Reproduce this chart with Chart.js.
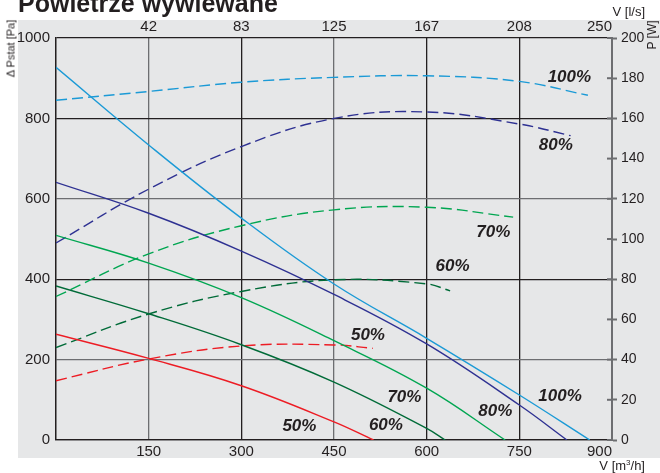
<!DOCTYPE html>
<html>
<head>
<meta charset="utf-8">
<script src="https://cdn.jsdelivr.net/npm/chart.js@4/dist/chart.umd.min.js"></script>
<style>
  body { margin: 0; background: #fff; }
  #wrap { position: relative; width: 660px; height: 473px; overflow: hidden; font-family: "Liberation Sans", Arial, sans-serif; color: #231f20; }
  canvas { position: absolute; left: 0; top: 0; }
  .lbl { position: absolute; white-space: nowrap; }
  #title { left: 18px; top: -9px; font-size: 25px; line-height: 25px; font-weight: bold; }
  #ls { right: 15px; top: 5px; font-size: 13px; line-height: 13px; }
  #m3h { right: 15px; top: 459px; font-size: 13px; line-height: 13px; }
  #m3h sup { font-size: 8px; vertical-align: 5px; line-height: 0; }
  #pw { left: 632px; top: 29px; width: 40px; height: 12px; font-size: 12px; line-height: 12px; text-align: center; transform: rotate(-90deg); }
  #pa { left: -24px; top: 43px; width: 70px; height: 11px; font-size: 11px; line-height: 11px; text-align: center; transform: rotate(-90deg); }
</style>
</head>
<body>
<div id="wrap">
  <canvas id="chart" width="660" height="473"></canvas>
  <div class="lbl" id="title">Powietrze wywiewane</div>
  <div class="lbl" id="ls">V [l/s]</div>
  <div class="lbl" id="m3h">V [m<sup>3</sup>/h]</div>
  <div class="lbl" id="pw">P [W]</div>
  <div class="lbl" id="pa">Δ Pstat [Pa]</div>
</div>
<script>
// flow axis ticks (m3/h) and matching l/s labels on top
const flowTicks = [0, 150, 300, 450, 600, 750, 900];
const lsTicks = ['', '42', '83', '125', '167', '208', '250'];

// static pressure curves [m3/h, Pa]
const pressure100 = [[0,927],[150,734],[300,552],[450,388],[600,253],[750,112],[864,0]];
const pressure80  = [[0,641],[150,564],[300,470],[450,362],[600,239],[750,87],[827,0]];
const pressure70  = [[0,509],[150,440],[300,354],[450,247],[600,129],[727,0]];
const pressure60  = [[0,383],[150,314],[300,237],[450,144],[600,29],[630,0]];
const pressure50  = [[0,263],[150,203],[300,135],[450,45],[514,0]];

// power curves [m3/h, W]
const power100 = [[0,169],[150,173.4],[300,178],[450,180.4],[600,181.2],[750,178.4],[861,171.5]];
const power80  = [[0,98],[150,124.8],[300,146],[450,160],[600,163.2],[750,157.2],[833,151.4]];
const power70  = [[0,71.4],[150,92.6],[300,106.6],[450,114.5],[600,115.8],[740,110.9]];
const power60  = [[0,46],[150,62.7],[300,73.9],[450,79.7],[600,77.7],[638,74.2]];
const power50  = [[0,29.5],[150,40.3],[300,46.8],[450,47.3],[513,45.6]];

// curve labels, placed in data units (m3/h, Pa)
const curveLabels = [
  ['100%', 831, 903], ['80%', 809, 734], ['70%', 708, 516], ['60%', 642, 433], ['50%', 505, 261],
  ['100%', 816, 108], ['80%', 711, 72], ['70%', 564, 105], ['60%', 534, 36], ['50%', 394, 35]
];

const DARK = '#231f20';
const GRAY = '#6d6e71';
const colors = { c100: '#1b9ad6', c80: '#2e3192', c70: '#00a651', c60: '#006b38', c50: '#ed1c24' };

const toXY = arr => arr.map(p => ({ x: p[0], y: p[1] }));

function curve(data, color, axis, dashed) {
  return {
    data: toXY(data),
    borderColor: color,
    borderWidth: 1.4,
    borderDash: dashed ? [11, 5] : [],
    yAxisID: axis,
    pointRadius: 0,
    tension: 0.4,
    fill: false
  };
}

const bgPlugin = {
  id: 'bg',
  beforeDraw(chart) {
    const ctx = chart.ctx;
    ctx.save();
    ctx.fillStyle = '#e6e7e8';
    ctx.fillRect(18, 20, 642, 438);
    ctx.restore();
  }
};

const extrasPlugin = {
  id: 'extras',
  afterDraw(chart) {
    const ctx = chart.ctx;
    const xs = chart.scales.x, ys = chart.scales.y, yw = chart.scales.yW;
    ctx.save();
    // inner half of the right axis tick marks
    ctx.strokeStyle = GRAY;
    ctx.lineWidth = 2;
    yw.ticks.forEach(t => {
      const py = yw.getPixelForValue(t.value);
      ctx.beginPath();
      ctx.moveTo(yw.left - 5, py);
      ctx.lineTo(yw.left, py);
      ctx.stroke();
    });
    // percentage labels
    ctx.fillStyle = DARK;
    ctx.font = 'italic bold 17px "Liberation Sans", Arial, sans-serif';
    ctx.textAlign = 'center';
    ctx.textBaseline = 'middle';
    curveLabels.forEach(l => {
      ctx.fillText(l[0], xs.getPixelForValue(l[1]), ys.getPixelForValue(l[2]));
    });
    ctx.restore();
  }
};

const tickFont = { family: '"Liberation Sans", Arial, sans-serif', size: 15 };
const darkX = [0, 300, 600, 750];
const darkY = [0, 400, 800, 1000];

new Chart(document.getElementById('chart'), {
  type: 'line',
  data: {
    datasets: [
      curve(pressure100, colors.c100, 'y', false),
      curve(pressure80, colors.c80, 'y', false),
      curve(pressure70, colors.c70, 'y', false),
      curve(pressure60, colors.c60, 'y', false),
      curve(pressure50, colors.c50, 'y', false),
      curve(power100, colors.c100, 'yW', true),
      curve(power80, colors.c80, 'yW', true),
      curve(power70, colors.c70, 'yW', true),
      curve(power60, colors.c60, 'yW', true),
      curve(power50, colors.c50, 'yW', true)
    ]
  },
  options: {
    responsive: false,
    animation: false,
    layout: { padding: 0 },
    plugins: { legend: { display: false }, tooltip: { enabled: false }, title: { display: false } },
    scales: {
      x: {
        type: 'linear', position: 'bottom', min: 0, max: 900,
        afterBuildTicks: s => { s.ticks = flowTicks.map(v => ({ value: v })); },
        afterFit: s => { s.height = 33; },
        ticks: { align: 'inner', padding: 3, color: DARK, font: tickFont, callback: v => v === 0 ? '' : String(v) },
        grid: { color: c => darkX.includes(c.tick.value) ? DARK : GRAY, lineWidth: 1.3, drawTicks: false },
        border: { color: DARK, width: 1.3 }
      },
      x2: {
        type: 'linear', position: 'top', min: 0, max: 900,
        afterBuildTicks: s => { s.ticks = flowTicks.map(v => ({ value: v })); },
        afterFit: s => { s.height = 38; },
        ticks: { align: 'inner', padding: 2, color: DARK, font: tickFont, callback: (v, i) => lsTicks[i] },
        grid: { display: false, drawTicks: false },
        border: { display: false }
      },
      y: {
        position: 'left', min: 0, max: 1000,
        afterFit: s => { s.width = 56; },
        ticks: { stepSize: 200, padding: 6, color: DARK, font: tickFont, callback: v => String(v) },
        grid: { color: c => darkY.includes(c.tick.value) ? DARK : GRAY, lineWidth: 1.3, drawTicks: false },
        border: { color: DARK, width: 1.3 }
      },
      yW: {
        position: 'right', min: 0, max: 200,
        afterFit: s => { s.width = 48; },
        ticks: { stepSize: 20, padding: 4, color: DARK, font: { family: tickFont.family, size: 14 }, callback: v => String(v) },
        grid: { drawOnChartArea: false, drawTicks: true, tickLength: 5, tickWidth: 2, tickColor: GRAY },
        border: { color: GRAY, width: 2 }
      }
    }
  },
  plugins: [bgPlugin, extrasPlugin]
});
</script>
</body>
</html>
